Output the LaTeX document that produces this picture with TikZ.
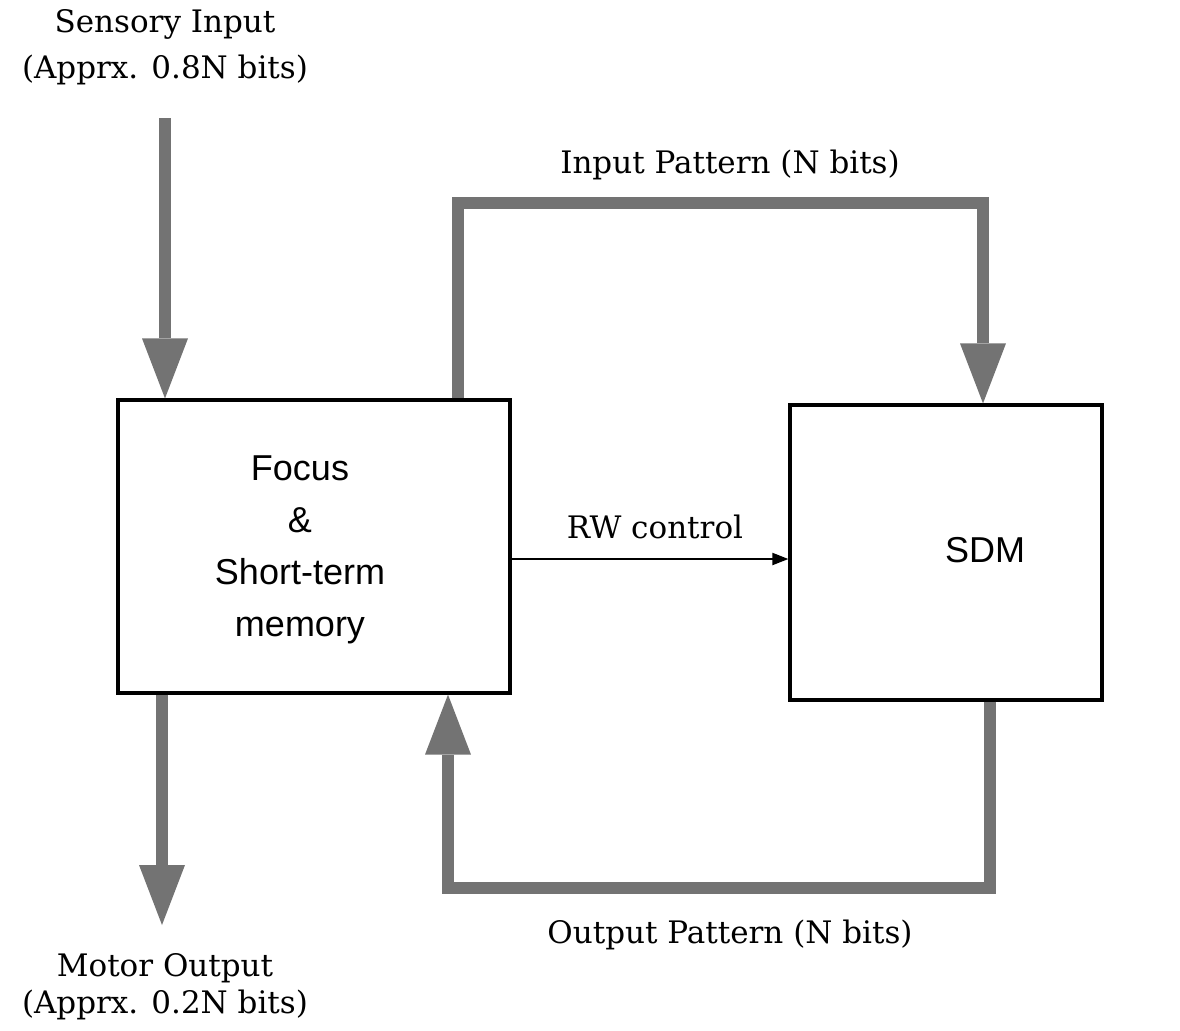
\documentclass[tikz,border=0pt]{standalone}
\usepackage{fontspec}
\setmainfont{DejaVu Serif}
\newfontfamily\boxfont{Liberation Sans}
\usetikzlibrary{arrows.meta}
\tikzset{
  big/.style={line width=6pt, draw=black!55, line join=miter, line cap=butt,
    -{Triangle[width=23pt,length=30pt,fill=black!55,line width=0pt]}},
  blk/.style={draw=black, line width=1.6pt, fill=white, inner sep=0pt},
  lbl/.style={font=\fontsize{15.5}{18}\selectfont, inner sep=0pt, anchor=center},
  boxtxt/.style={font=\boxfont\fontsize{18}{26}\selectfont, align=center},
  thin/.style={line width=1pt, -{Triangle[width=6pt,length=8pt]}}
}
\begin{document}
\begin{tikzpicture}[x=0.5pt,y=-0.5pt]
\useasboundingbox (0,0) rectangle (1180,1030);
% boxes
\node[blk, minimum width=196pt, minimum height=146.5pt] (focus) at (314,546.5) {};
\node[boxtxt] (focustxt) at (300,550) {Focus\\\&\\Short-term\\memory};
\node[blk, minimum width=156pt, minimum height=147.5pt] (sdm) at (946,552.5) {};
\node[boxtxt] (sdmtxt) at (985,550) {SDM};
% labels
\node[lbl] (sin1) at (165,24) {Sensory Input};
\node[lbl] (sin2) at (165,70) {(Apprx. 0.8N bits)};
\node[lbl] (ipl) at (730,165) {Input Pattern (N bits)};
\node[lbl] (opl) at (730,935) {Output Pattern (N bits)};
\node[lbl] (mo1) at (165,968) {Motor Output};
\node[lbl] (mo2) at (165,1005) {(Apprx. 0.2N bits)};
\node[lbl] (rwl) at (655,527) {RW control};
% coordinates
\coordinate (sin) at (165,118);
\coordinate (ipL) at (458,203);
\coordinate (ipR) at (983,203);
\coordinate (opR) at (990,888);
\coordinate (opL) at (448,888);
\coordinate (mo) at (162,925);
\coordinate (rw) at (0,559);
% connectors
\draw[big] (sin) -- (sin |- focus.north);
\draw[big] (ipL |- focus.north) -- (ipL) -- (ipR) -- (ipR |- sdm.north);
\draw[big] (opR |- sdm.south) -- (opR) -- (opL) -- (opL |- focus.south);
\draw[big] (mo |- focus.south) -- (mo);
\draw[thin] (focus.east |- rw) -- (sdm.west |- rw);
\end{tikzpicture}
\end{document}
